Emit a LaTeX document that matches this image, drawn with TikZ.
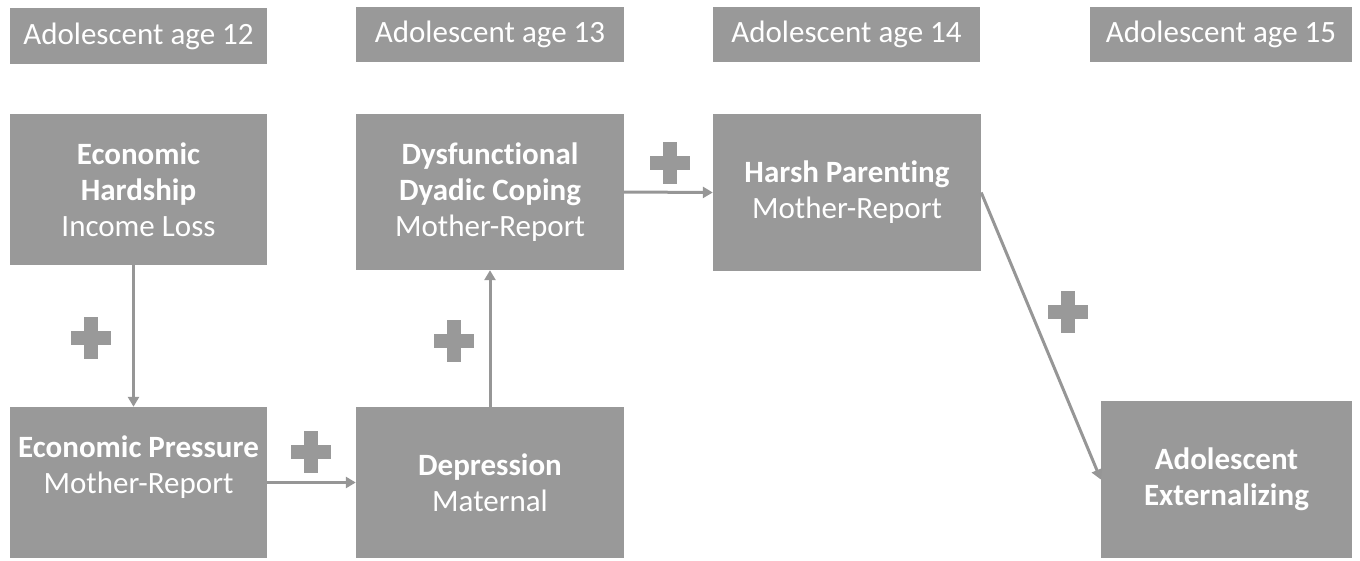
\documentclass[tikz,border=0pt]{standalone}
\usepackage{fontspec}
\setmainfont{Carlito}[Ligatures=NoCommon]
\usepackage{tikz}
\usetikzlibrary{arrows.meta}
\definecolor{boxgray}{RGB}{153,153,153}
\definecolor{linegray}{RGB}{150,150,150}

\begin{document}
\begin{tikzpicture}[x=1pt,y=-1pt,
  box/.style={fill=boxgray,text=white,inner sep=0pt,align=center,
    font=\fontsize{31}{36}\selectfont},
  link/.style={draw=linegray,line width=3pt,-{Triangle[length=10pt,width=11pt]}},
  plusbar/.style={draw=boxgray,line width=14pt}]
  \useasboundingbox (0,0) rectangle (1360,560);
  % age labels
  \node[box,minimum width=257pt,minimum height=56pt](age12) at (138.5,36){Adolescent age 12};
  \node[box,minimum width=268pt,minimum height=55pt](age13) at (490,34.5){Adolescent age 13};
  \node[box,minimum width=267pt,minimum height=55pt](age14) at (846.5,34.5){Adolescent age 14};
  \node[box,minimum width=262pt,minimum height=55pt](age15) at (1221,34.5){Adolescent age 15};
  % constructs
  \node[box,minimum width=257pt,minimum height=151pt](hardship) at (138.5,189.5)
    {\textbf{Economic}\\\textbf{Hardship}\\Income Loss};
  \node[box,minimum width=268pt,minimum height=156pt](coping) at (490,192)
    {\textbf{Dysfunctional}\\\textbf{Dyadic Coping}\\Mother-Report};
  \node[box,minimum width=268pt,minimum height=157pt](harsh) at (847,192.5)
    {\textbf{Harsh Parenting}\\Mother-Report};
  \node[box,minimum width=257pt,minimum height=151pt](pressure) at (138.5,482.5)
    {\textbf{Economic Pressure}\\Mother-Report\\[-12pt]\strut};
  \node[box,minimum width=268pt,minimum height=151pt](depress) at (490,482.5)
    {\textbf{Depression}\\Maternal};
  \node[box,minimum width=251pt,minimum height=157pt](extern) at (1226.5,479.5)
    {\textbf{Adolescent}\\\textbf{Externalizing}};
  % paths
  \draw[link]([xshift=-5pt]hardship.south)--([xshift=-5pt]pressure.north);
  \draw[link](pressure.east)--(depress.west);
  \draw[link](depress.north)--(coping.south);
  \draw[link](coping.east)--(harsh.west);
  \draw[link](harsh.east)--(extern.west);
  % plus signs
  \foreach \px/\py in {91/338, 311/452, 454/341, 670/163, 1068/312}
    \draw[plusbar](\px-20,\py)--(\px+20,\py) (\px,\py-21)--(\px,\py+21);
\end{tikzpicture}
\end{document}
